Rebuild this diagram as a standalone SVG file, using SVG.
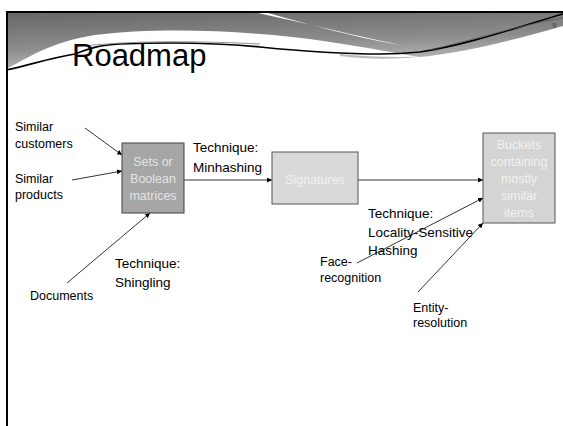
<svg xmlns="http://www.w3.org/2000/svg" width="563" height="426" viewBox="0 0 563 426">
<style>
text{font-family:"Liberation Sans",Arial,sans-serif;fill:#000}
.lbl{font-size:12.5px}
.tech{font-size:13.5px}
.box text{font-size:12.5px;text-anchor:middle;fill:#f2f2f2}
#sets text{fill:#e4e4e4}
.conn line{stroke:#000;stroke-width:0.8;fill:none}
</style>
<defs>
<linearGradient id="hdr" x1="0" y1="0" x2="0.3" y2="1">
<stop offset="0" stop-color="#666"/>
<stop offset="0.6" stop-color="#8c8c8c"/>
<stop offset="1" stop-color="#b8b8b8"/>
</linearGradient>
<marker id="ah" viewBox="0 0 10 10" refX="10" refY="5" markerWidth="5" markerHeight="5" orient="auto" markerUnits="userSpaceOnUse">
<path d="M0,0 L10,5 L0,10 Z" fill="#000"/>
</marker>
</defs>
<rect width="563" height="426" fill="#fff"/>
<!-- header -->
<path d="M6,69 C28,58 50,42 95,35 C160,27 250,30 330,42 C370,48 400,54 420,57 C470,52 520,38 563,26 L563,12 L6,12 Z" fill="url(#hdr)"/>
<path d="M258,13 C300,22 340,32 400,45 C370,40 320,28 268,13 Z" fill="#fff"/>
<path d="M340,54 C370,57 400,58 430,56 C400,59 370,60 340,56 Z" fill="#bbb"/>
<path d="M6,70 C30,65 50,58 75,54 C90,48 100,45 120,44 C170,42 220,43 260,47 C300,51 340,54 380,54 C400,54 410,53 420,52 C470,44 515,28 563,14" fill="none" stroke="#000" stroke-width="1.6"/>
<path d="M75,47 C130,40 200,41 260,44" fill="none" stroke="#777" stroke-width="0.8"/>
<path d="M430,50 C480,38 520,25 563,18" fill="none" stroke="#555" stroke-width="0.7"/>
<line x1="6" y1="12" x2="563" y2="12" stroke="#000" stroke-width="2"/>
<line x1="7" y1="12" x2="7" y2="426" stroke="#000" stroke-width="2"/>
<text x="72" y="66" font-size="31">Roadmap</text>
<text x="552" y="28" font-size="8" style="fill:#444">9</text>
<!-- connectors -->
<g id="connectors" class="conn">
<line x1="85" y1="128" x2="122" y2="155" marker-end="url(#ah)"/>
<line x1="72" y1="180" x2="122" y2="171" marker-end="url(#ah)"/>
<line x1="67" y1="283" x2="150" y2="213" marker-end="url(#ah)"/>
<line x1="184" y1="180" x2="272" y2="180" marker-end="url(#ah)"/>
<line x1="358" y1="180" x2="483" y2="180" marker-end="url(#ah)"/>
<line x1="357" y1="263" x2="483" y2="198" marker-end="url(#ah)"/>
<line x1="418" y1="292" x2="483" y2="223" marker-end="url(#ah)"/>
</g>
<!-- nodes -->
<g id="sets" class="box">
<rect x="122" y="143" width="62" height="70" fill="#a6a6a6" stroke="#404040" stroke-width="1"/>
<text x="153" y="166">Sets or</text>
<text x="153" y="183">Boolean</text>
<text x="153" y="200">matrices</text>
</g>
<g id="signatures" class="box">
<rect x="272" y="152" width="86" height="52" fill="#d9d9d9" stroke="#555" stroke-width="1"/>
<text x="315" y="184">Signatures</text>
</g>
<g id="buckets" class="box">
<rect x="483" y="133" width="72" height="90" fill="#d4d4d4" stroke="#555" stroke-width="1"/>
<text x="519" y="149">Buckets</text>
<text x="519" y="166">containing</text>
<text x="519" y="183">mostly</text>
<text x="519" y="200">similar</text>
<text x="519" y="217">items</text>
</g>
<g id="similar-customers">
<text class="lbl" x="15" y="131">Similar</text>
<text class="lbl" x="15" y="148">customers</text>
</g>
<g id="similar-products">
<text class="lbl" x="15" y="183">Similar</text>
<text class="lbl" x="15" y="199">products</text>
</g>
<g id="documents">
<text class="lbl" x="30" y="300">Documents</text>
</g>
<g id="face-recognition">
<text class="lbl" x="320" y="266">Face-</text>
<text class="lbl" x="320" y="282">recognition</text>
</g>
<g id="entity-resolution">
<text class="lbl" x="413" y="312">Entity-</text>
<text class="lbl" x="413" y="327">resolution</text>
</g>
<g id="tech-shingling">
<text class="tech" x="115" y="268">Technique:</text>
<text class="tech" x="115" y="287">Shingling</text>
</g>
<g id="tech-minhashing">
<text class="tech" x="193" y="152">Technique:</text>
<text class="tech" x="193" y="172">Minhashing</text>
</g>
<g id="tech-lsh">
<text class="tech" x="368" y="218">Technique:</text>
<text class="tech" x="368" y="237">Locality-Sensitive</text>
<text class="tech" x="368" y="255">Hashing</text>
</g>
</svg>
